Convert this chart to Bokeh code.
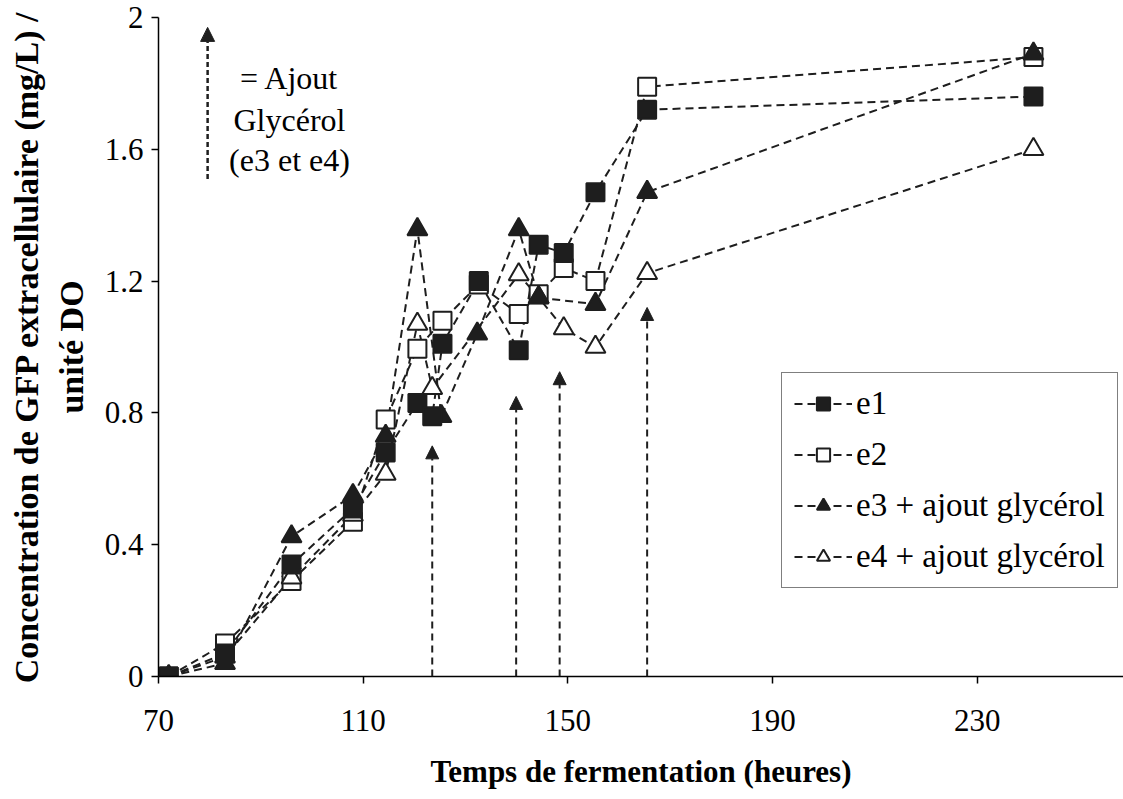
from bokeh.plotting import figure
from bokeh.models import (ColumnDataSource, Arrow, NormalHead, Legend, LegendItem,
                          FixedTicker, Label, Range1d)
from bokeh.embed import file_html
from bokeh.resources import INLINE

# Fermentation time (h) and extracellular GFP per OD unit for each run
t_e1 = [72, 83, 96, 108, 114.4, 120.6, 123.5, 125.5, 132.6, 140.4, 144.3, 149.2, 155.4, 165.5, 241]
gfp_e1 = [0, 0.07, 0.34, 0.51, 0.68, 0.83, 0.79, 1.01, 1.20, 0.99, 1.31, 1.285, 1.47, 1.72, 1.76]

t_e2 = [72, 83, 96, 108, 114.4, 120.6, 125.5, 132.6, 140.4, 144.3, 149.2, 155.4, 165.5, 241]
gfp_e2 = [0, 0.10, 0.29, 0.47, 0.78, 0.995, 1.08, 1.19, 1.10, 1.16, 1.24, 1.20, 1.79, 1.88]

t_e3 = [72, 83, 96, 108, 114.4, 120.6, 125.3, 132.3, 140.4, 144.3, 155.4, 165.5, 241]
gfp_e3 = [0, 0.04, 0.425, 0.55, 0.73, 1.357, 0.79, 1.04, 1.357, 1.15, 1.13, 1.47, 1.89]

t_e4 = [72, 83, 96, 108, 114.4, 120.6, 123.5, 140.4, 144.3, 149.2, 155.4, 165.5, 241]
gfp_e4 = [0, 0.06, 0.30, 0.49, 0.615, 1.07, 0.875, 1.22, 1.15, 1.056, 1.0, 1.224, 1.60]

# Glycerol additions (e3 and e4): time and arrow tip height
glycerol_t = [123.5, 139.9, 148.4, 165.5]
glycerol_tip = [0.70, 0.85, 0.925, 1.12]

x_ticks = [70, 110, 150, 190, 230]
y_ticks = [0, 0.4, 0.8, 1.2, 1.6, 2]
y_tick_labels = ["0", "0.4", "0.8", "1.2", "1.6", "2"]

SERIF = "Liberation Serif"
INK = "#1e1e1e"

p = figure(width=1123, height=799, output_backend="svg", toolbar_location=None,
           x_range=Range1d(70, 258.6), y_range=Range1d(0, 2),
           min_border_left=158, min_border_right=0, min_border_top=17, min_border_bottom=123)
p.outline_line_color = None
p.xgrid.grid_line_color = None
p.ygrid.grid_line_color = None
p.background_fill_color = "white"
p.border_fill_color = "white"

for ax in (p.xaxis[0], p.yaxis[0]):
    ax.axis_line_color = "black"
    ax.axis_line_width = 1.5
    ax.major_tick_line_color = "black"
    ax.major_tick_line_width = 1.5
    ax.major_tick_in = 0
    ax.major_tick_out = 7
    ax.minor_tick_line_color = None
    ax.major_label_text_font = SERIF
    ax.major_label_text_font_size = "31px"
    ax.major_label_text_color = "black"
    ax.axis_label_text_font = SERIF
    ax.axis_label_text_font_style = "bold"
    ax.axis_label_text_color = "black"

p.xaxis.ticker = FixedTicker(ticks=x_ticks)
p.xaxis.major_label_standoff = 26
p.xaxis.axis_label = "Temps de fermentation (heures)"
p.xaxis.axis_label_text_font_size = "31px"
p.xaxis.axis_label_standoff = 20

p.yaxis.ticker = FixedTicker(ticks=y_ticks)
p.yaxis.major_label_overrides = {v: s for v, s in zip(y_ticks, y_tick_labels)}
p.yaxis.major_label_standoff = 8
p.yaxis.axis_label = "Concentration de GFP extracellulaire (mg/L) /\nunité DO"
p.yaxis.axis_label_text_font_size = "34px"
p.yaxis.axis_label_standoff = 12

# Glycerol addition arrows
arrow_src = ColumnDataSource(dict(x=glycerol_t, y0=[0] * len(glycerol_t), y1=glycerol_tip))
p.add_layout(Arrow(source=arrow_src, x_start="x", y_start="y0", x_end="x", y_end="y1",
                   line_color=INK, line_width=2, line_dash="7 5",
                   end=NormalHead(size=13, fill_color=INK, line_color=INK, line_width=1)))

# Key arrow for glycerol addition
key_src = ColumnDataSource(dict(x=[79.6], y0=[1.51], y1=[1.97]))
p.add_layout(Arrow(source=key_src, x_start="x", y_start="y0", x_end="x", y_end="y1",
                   line_color=INK, line_width=2.5, line_dash="5 3",
                   end=NormalHead(size=14, fill_color=INK, line_color=INK, line_width=1)))
for txt, yv in [("= Ajout", 1.817), ("Glycérol", 1.689), ("(e3 et e4)", 1.567)]:
    p.add_layout(Label(x=95.6, y=yv, text=txt, text_align="center", text_baseline="middle",
                       text_font=SERIF, text_font_size="32px", text_color="black"))

dash = "8 5"
series = [
    ("e1", t_e1, gfp_e1, "square", INK),
    ("e2", t_e2, gfp_e2, "square", "white"),
    ("e3 + ajout glycérol", t_e3, gfp_e3, "triangle", INK),
    ("e4 + ajout glycérol", t_e4, gfp_e4, "triangle", "white"),
]
style = {name: (tx, gy, marker, fill) for name, tx, gy, marker, fill in series}

# connecting lines first, then markers (e1 on top)
lines = {}
for name, tx, gy, marker, fill in series:
    lines[name] = p.line(tx, gy, line_color=INK, line_width=2, line_dash=dash)
marks = {}
for name in ["e2", "e4 + ajout glycérol", "e3 + ajout glycérol", "e1"]:
    tx, gy, marker, fill = style[name]
    size = 18 if marker == "square" else 20
    marks[name] = p.scatter(tx, gy, marker=marker, size=size,
                            fill_color=fill, line_color=INK, line_width=2)

items = [LegendItem(label=name, renderers=[lines[name], marks[name]]) for name, *_ in series]
legend = Legend(items=items, location=(623, 88),
                label_text_font=SERIF, label_text_font_size="33px", label_text_color="black",
                glyph_width=58, glyph_height=33, label_height=33, spacing=14,
                padding=12, margin=0, label_standoff=4,
                border_line_color="black", border_line_width=1.5,
                background_fill_color="white", background_fill_alpha=1)
p.add_layout(legend, "center")

open("out.html", "w").write(file_html(p, INLINE))
